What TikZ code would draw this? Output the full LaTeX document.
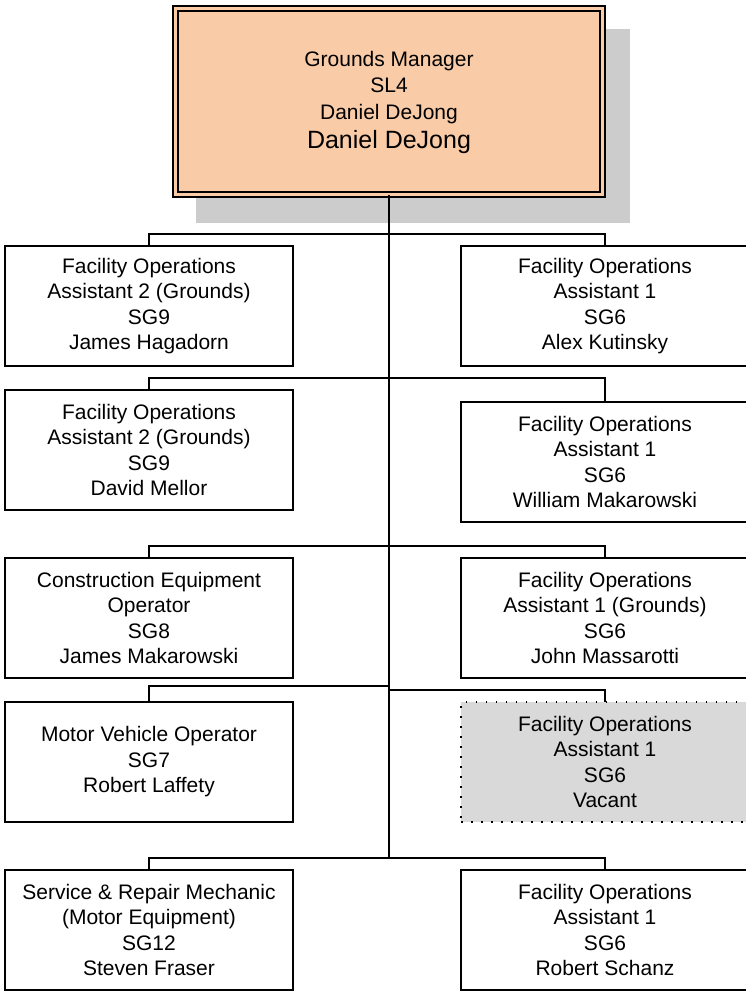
\documentclass[tikz,border=0pt]{standalone}
\usepackage{fontspec}
\setmainfont{Liberation Sans}
\usepackage{xcolor}
\usepackage{tikz}
\usetikzlibrary{positioning,calc}
\definecolor{peach}{RGB}{249,203,167}
\definecolor{shadowgray}{RGB}{204,204,204}
\definecolor{vacantgray}{RGB}{217,217,217}
\newcommand{\postfont}{\fontsize{21}{25.5}\selectfont}

\begin{document}
\begin{tikzpicture}[x=1pt, y=-1pt,
    post/.style={rectangle, draw=black, line width=1.5pt, fill=white, minimum width=288pt, minimum height=120pt, inner sep=0pt, outer sep=0pt, align=center, font=\postfont},
    vacant/.style={post, fill=vacantgray, dash pattern=on 1.5pt off 8.5pt},
    boss/.style={rectangle, draw=black, line width=2pt, double=peach, double distance=3pt, fill=peach, minimum width=427pt, minimum height=186pt, inner sep=0pt, outer sep=0pt, align=center, font=\fontsize{21}{26.5}\selectfont},
    link/.style={line width=1.5pt}
]
    \useasboundingbox (0,0) rectangle (746,992);
    \clip (0,0) rectangle (746,992);

    % Manager
    \fill[shadowgray] (196,29) rectangle (630,223);
    \node[boss] (mgr) at (389,102) {
        Grounds Manager\\
        SL4\\
        Daniel DeJong\\[2.5pt]
        {\fontsize{25}{29}\selectfont Daniel DeJong}
    };

    % Left column
    \node[post] (fa2a) at (149,306) {Facility Operations\\Assistant 2 (Grounds)\\SG9\\James Hagadorn};
    \node[post] (fa2b) at (149,450) {Facility Operations\\Assistant 2 (Grounds)\\SG9\\David Mellor};
    \node[post] (ceo) at (149,618) {Construction Equipment\\Operator\\SG8\\James Makarowski};
    \node[post] (mvo) at (149,762) {Motor Vehicle Operator\\SG7\\Robert Laffety};
    \node[post] (srm) at (149,930) {Service \& Repair Mechanic\\(Motor Equipment)\\SG12\\Steven Fraser};

    % Right column
    \node[post] (fa1a) at (605,306) {Facility Operations\\Assistant 1\\SG6\\Alex Kutinsky};
    \node[post] (fa1b) at (605,462) {Facility Operations\\Assistant 1\\SG6\\William Makarowski};
    \node[post] (fa1c) at (605,618) {Facility Operations\\Assistant 1 (Grounds)\\SG6\\John Massarotti};
    \node[vacant] (fa1d) at (605,762) {Facility Operations\\Assistant 1\\SG6\\Vacant};
    \node[post] (fa1e) at (605,930) {Facility Operations\\Assistant 1\\SG6\\Robert Schanz};

    % Junctions on the trunk
    \coordinate (j1) at (389,234);
    \coordinate (j2) at (389,378);
    \coordinate (j3) at (389,546);
    \coordinate (j4a) at (389,686);
    \coordinate (j4b) at (389,690);
    \coordinate (j5) at (389,858);

    % Reporting lines
    \draw[link] (mgr.south) -- (j5);
    \draw[link] (fa2a.north) |- (j1) -| (fa1a.north);
    \draw[link] (fa2b.north) |- (j2) -| (fa1b.north);
    \draw[link] (ceo.north) |- (j3) -| (fa1c.north);
    \draw[link] (mvo.north) |- (j4a);
    \draw[link] (j4b) -| (fa1d.north);
    \draw[link] (srm.north) |- (j5) -| (fa1e.north);
\end{tikzpicture}
\end{document}
